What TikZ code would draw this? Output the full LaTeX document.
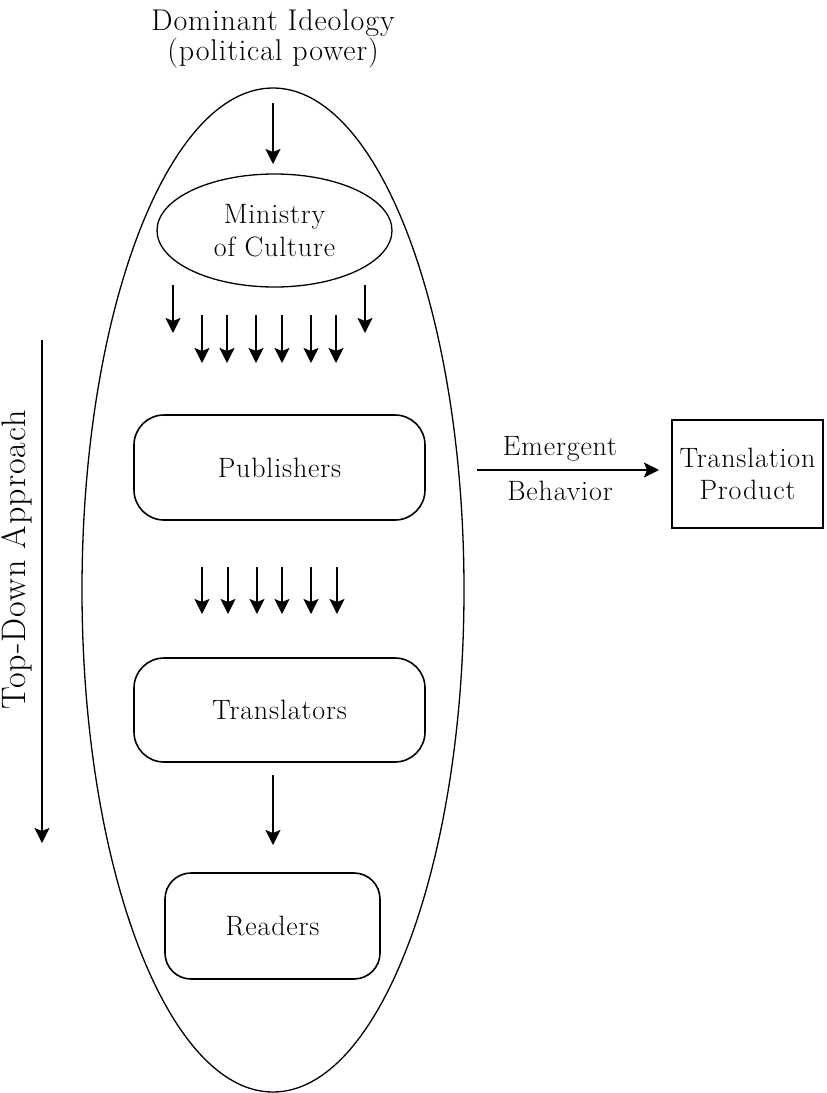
\documentclass[tikz,border=0pt]{standalone}
\usepackage{fontspec}
\setmainfont{Latin Modern Roman}[LetterSpace=3]
\usepackage{tikz}
\usetikzlibrary{shapes,arrows.meta}

\begin{document}
\begin{tikzpicture}[x=1pt,y=-1pt]
	\tikzset{txt/.style={font=\fontsize{28}{31}\selectfont,align=center,inner sep=0pt},
		box/.style={draw,line width=1.6pt,rounded corners=30pt,txt},
		arr/.style={-{Stealth[length=15pt,width=15pt,inset=3pt]},line width=1.8pt}}
	\useasboundingbox (0,0) rectangle (827,1093);
	
	\draw[line width=1.3pt] (273,590) ellipse [x radius=191, y radius=502];
	
	\node (ideology) at (273,39) [txt,font=\fontsize{30}{30}\selectfont] {Dominant Ideology\\(political power)};
	\node (ministry) at (274.5,230.5) [draw,ellipse,line width=1.3pt,txt,font=\fontsize{28}{33}\selectfont,minimum width=235pt,minimum height=113pt] {Ministry\\of Culture};
	\node (publishers) at (279.5,467.5) [box,minimum width=291pt,minimum height=105pt] {Publishers};
	\node (translators) at (279.5,710) [box,minimum width=291pt,minimum height=104pt] {Translators};
	\node (readers) at (272.5,926) [box,rounded corners=26pt,minimum width=215pt,minimum height=106pt] {Readers};
	\node (product) at (747.5,474) [draw,line width=1.4pt,txt,font=\fontsize{28}{32}\selectfont,minimum width=151pt,minimum height=108pt] {Translation\\Product};
	
	\coordinate (top1) at (273,103);
	\coordinate (top2) at (273,164);
	\draw[arr] (top1) -- (top2);
	
	\foreach \x in {173,365}
	\draw[arr] (\x,285) -- (\x,333);
	\foreach \x in {202,227,256,282,311,336}
	\draw[arr] (\x,315) -- (\x,363);
	\foreach \x in {202,228,257,282,311,337}
	\draw[arr] (\x,567) -- (\x,614);
	
	\coordinate (low1) at (273,775);
	\coordinate (low2) at (273,845);
	\draw[arr] (low1) -- (low2);
	
	\coordinate (em1) at (477,470);
	\coordinate (em2) at (659,470);
	\draw[arr] (em1) -- (em2);
	\node (emergent) at (560,455) [txt,anchor=base] {Emergent};
	\node (behavior) at (560,500) [txt,anchor=base] {Behavior};
	
	\coordinate (td1) at (42,340);
	\coordinate (td2) at (42,843);
	\draw[arr,line width=1.6pt] (td1) -- (td2);
	\node (topdown) at (17,560) [rotate=90,font=\fontsize{34}{40}\selectfont,inner sep=0pt] {Top-Down Approach};
\end{tikzpicture}
\end{document}
